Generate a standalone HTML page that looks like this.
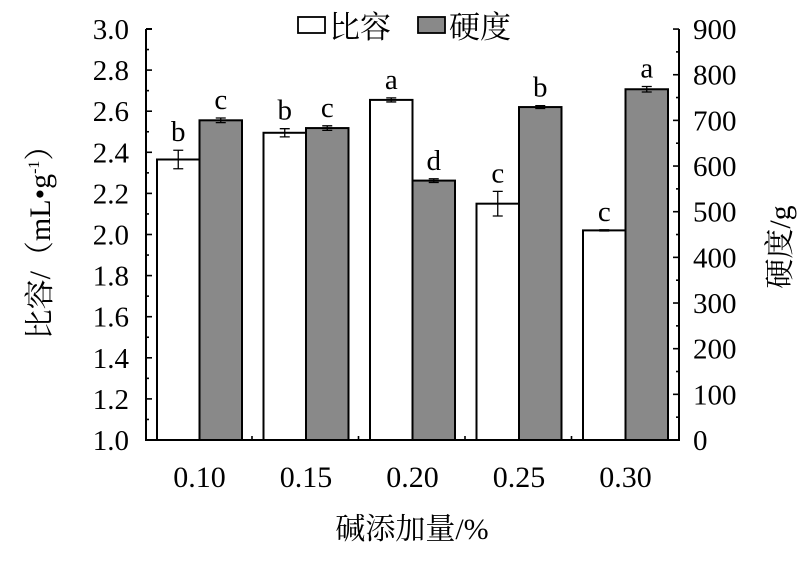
<!DOCTYPE html>
<html><head><meta charset="utf-8"><style>
body{margin:0;background:#fff}
svg text{font-family:"Liberation Serif","Noto Serif CJK SC",serif;fill:#000}
</style></head><body>
<svg width="810" height="562" viewBox="0 0 810 562" xmlns="http://www.w3.org/2000/svg">
<g stroke="#000" stroke-width="2" fill="none">
<path d="M146,29 V440 H679 V29"/>
<path d="M146,29 h6"/>
</g>
<g id="ticks" stroke="#000" stroke-width="1.6"></g>
<g id="bars"></g>
<g id="labels" font-size="29"></g>
<rect x="298" y="17" width="27" height="16" fill="#fff" stroke="#000" stroke-width="1.8"/>
<text x="329" y="38" font-size="31">比容</text>
<rect x="418" y="17" width="27" height="16" fill="#898989" stroke="#000" stroke-width="1.8"/>
<text x="449" y="38" font-size="31">硬度</text>
<text x="412" y="539" font-size="30" text-anchor="middle">碱添加量/%</text>
<text transform="translate(50,235) rotate(-90)" font-size="30" text-anchor="middle">比容/（mL•g<tspan font-size="16" dy="-11">-1</tspan><tspan dy="11">）</tspan></text>
<text transform="translate(790,247) rotate(-90)" font-size="30" text-anchor="middle">硬度/g</text>
<script>
const NS="http://www.w3.org/2000/svg";
function el(p,t,a,txt){const e=document.createElementNS(NS,t);for(const k in a)e.setAttribute(k,a[k]);if(txt!==undefined)e.textContent=txt;document.getElementById(p).appendChild(e);return e;}
const yL=v=>440-(v-1)*205.5, yR=h=>440-h*0.4567;
for(let i=0;i<=20;i++){const y=440-i*20.55;el("ticks","line",{x1:146,x2:i%2?149:152,y1:y,y2:y});}
for(let i=0;i<=10;i++){const v=1+i*0.2;el("labels","text",{x:129,y:yL(v)+10,"text-anchor":"end"},v.toFixed(1));}
for(let i=0;i<=18;i++){const y=440-i*22.83;el("ticks","line",{x1:679,x2:i%2?676:673,y1:y,y2:y});}
for(let i=0;i<=9;i++){el("labels","text",{x:693,y:yR(i*100)+10},String(i*100));}
const sv=[[2.365,0.045,"b"],[2.495,0.02,"b"],[2.655,0.01,"a"],[2.15,0.06,"c"],[2.02,0.003,"c"]];
const hd=[[700,5,"c"],[683,5,"c"],[568,4,"d"],[729,3,"b"],[768,6,"a"]];
const xl=["0.10","0.15","0.20","0.25","0.30"];
for(let i=0;i<5;i++){
 const x0=157+i*106.5, w=42.5;
 if(i<4)el("ticks","line",{x1:x0+95,x2:x0+95,y1:440,y2:436});
 let t=yL(sv[i][0]);
 el("bars","rect",{x:x0,y:t,width:w,height:440-t,fill:"#fff",stroke:"#000","stroke-width":2});
 let e=sv[i][1]*205.5,cx=x0+w/2;
 el("bars","path",{d:`M${cx},${t-e}V${t+e}M${cx-5},${t-e}h10M${cx-5},${t+e}h10`,stroke:"#000","stroke-width":1.3,fill:"none"});
 el("labels","text",{x:cx,y:t-e-9,"text-anchor":"middle"},sv[i][2]);
 let g=yR(hd[i][0]),x1=x0+w;
 el("bars","rect",{x:x1,y:g,width:w,height:440-g,fill:"#898989",stroke:"#000","stroke-width":2});
 let e2=hd[i][1]*0.4567,cx2=x1+w/2;
 el("bars","path",{d:`M${cx2},${g-e2}V${g+e2}M${cx2-5},${g-e2}h10M${cx2-5},${g+e2}h10`,stroke:"#000","stroke-width":1.3,fill:"none"});
 el("labels","text",{x:cx2,y:g-e2-9,"text-anchor":"middle"},hd[i][2]);
 el("labels","text",{x:x0+w,y:487,"text-anchor":"middle","font-size":30},xl[i]);
}
</script>
</svg>
</body></html>
